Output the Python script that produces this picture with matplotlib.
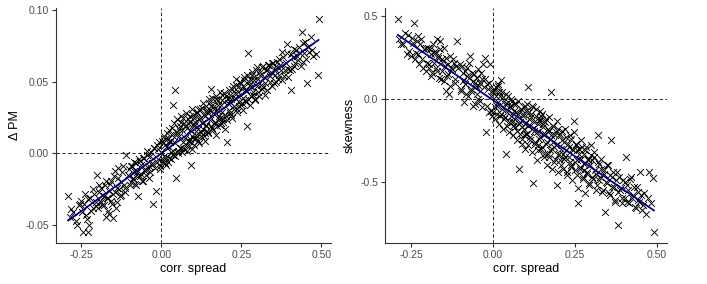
import numpy as np
import matplotlib
matplotlib.use("Agg")
import matplotlib.pyplot as plt

plt.rcParams['font.family'] = ['Liberation Sans', 'DejaVu Sans']

# corr. spread (shared x for both panels)
spread = [
    -0.290, -0.286, -0.275, -0.262, -0.258, -0.250, -0.245, -0.242, -0.236, -0.230,
    -0.226, -0.222, -0.215, -0.210, -0.205, -0.200,
    -0.196, -0.192, -0.188, -0.184, -0.180, -0.176, -0.172, -0.170, -0.166, -0.162,
    -0.158, -0.155, -0.150, -0.146, -0.142, -0.138, -0.134, -0.130, -0.125, -0.120,
    -0.115, -0.110, -0.105,
    -0.100, -0.096, -0.092, -0.088, -0.084, -0.080, -0.076, -0.073, -0.070, -0.066,
    -0.062, -0.058, -0.054, -0.050, -0.046, -0.042, -0.038, -0.034, -0.030, -0.025,
    -0.022, -0.017, -0.013, -0.009, -0.005, -0.002,
    0.002, 0.005, 0.008, 0.011, 0.014, 0.017, 0.020, 0.023, 0.026, 0.029,
    0.032, 0.035, 0.038, 0.041, 0.044, 0.046, 0.049, 0.052, 0.055, 0.058,
    0.061, 0.064, 0.067, 0.070, 0.073, 0.076, 0.079, 0.082, 0.085, 0.088,
    0.091, 0.094, 0.096, 0.099,
    0.102, 0.105, 0.107, 0.110, 0.113, 0.116, 0.119, 0.122, 0.125, 0.128,
    0.131, 0.134, 0.137, 0.140, 0.143, 0.146, 0.149, 0.152, 0.155, 0.158,
    0.161, 0.164, 0.167, 0.170, 0.173, 0.176, 0.179, 0.182, 0.185, 0.188,
    0.191, 0.194, 0.197, 0.199,
    0.202, 0.206, 0.209, 0.212, 0.216, 0.219, 0.222, 0.226, 0.229, 0.232,
    0.236, 0.239, 0.242, 0.246, 0.249, 0.252, 0.256, 0.259, 0.262, 0.266,
    0.268, 0.272, 0.276, 0.279, 0.282, 0.286, 0.289, 0.292, 0.296, 0.299,
    0.303, 0.307, 0.311, 0.315, 0.319, 0.321, 0.325, 0.329, 0.334, 0.338,
    0.343, 0.347, 0.352, 0.356, 0.359, 0.364, 0.369, 0.373, 0.378, 0.383,
    0.388, 0.393, 0.397,
    0.402, 0.405, 0.410, 0.415, 0.420, 0.426, 0.432, 0.438, 0.443, 0.450,
    0.456, 0.462, 0.468, 0.475, 0.482, 0.488, 0.491,
    # second batch
    -0.281, -0.268, -0.255, -0.248, -0.239, -0.233, -0.228, -0.219, -0.212, -0.203,
    -0.198, -0.194, -0.189, -0.185, -0.178, -0.174, -0.168, -0.164, -0.160, -0.156,
    -0.152, -0.148, -0.144, -0.140, -0.136, -0.131, -0.127, -0.122, -0.117, -0.112,
    -0.098, -0.094, -0.090, -0.086, -0.082, -0.078, -0.074, -0.068, -0.064, -0.060,
    -0.056, -0.052, -0.048, -0.044, -0.040, -0.036, -0.032, -0.028, -0.024, -0.019,
    -0.015, -0.011, -0.007, -0.003,
    0.001, 0.004, 0.007, 0.010, 0.013, 0.016, 0.019, 0.022, 0.025, 0.028,
    0.031, 0.034, 0.037, 0.040, 0.043, 0.047, 0.050, 0.053, 0.056, 0.059,
    0.062, 0.065, 0.068, 0.071, 0.074, 0.077, 0.080, 0.083, 0.086, 0.089,
    0.092, 0.095, 0.097, 0.098, 0.090, 0.060,
    0.101, 0.103, 0.106, 0.108, 0.111, 0.114, 0.117, 0.120, 0.123, 0.126,
    0.129, 0.132, 0.135, 0.138, 0.141, 0.144, 0.147, 0.150, 0.153, 0.156,
    0.159, 0.162, 0.165, 0.168, 0.171, 0.174, 0.177, 0.180, 0.183, 0.186,
    0.189, 0.192, 0.195, 0.198, 0.118, 0.136, 0.154, 0.172, 0.184, 0.145,
    0.201, 0.204, 0.207, 0.211, 0.214, 0.217, 0.221, 0.224, 0.227, 0.231,
    0.234, 0.237, 0.241, 0.244, 0.247, 0.251, 0.254, 0.257, 0.261, 0.264,
    0.267, 0.270, 0.274, 0.277, 0.281, 0.284, 0.287, 0.291, 0.294, 0.298,
    0.215, 0.238, 0.255, 0.278,
    0.301, 0.305, 0.309, 0.313, 0.317, 0.323, 0.327, 0.331, 0.336, 0.340,
    0.345, 0.349, 0.354, 0.358, 0.362, 0.367, 0.371, 0.376, 0.381, 0.386,
    0.391, 0.395,
    0.404, 0.408, 0.413, 0.418, 0.423, 0.429, 0.435, 0.441, 0.447, 0.453,
    0.459, 0.472,
]

# delta PM
dpm = [
    -0.030, -0.044, -0.041, -0.050, -0.036, -0.033, -0.055, -0.035, -0.043, -0.055,
    -0.050, -0.031, -0.038, -0.028, -0.034, -0.015,
    -0.027, -0.033, -0.024, -0.036, -0.030, -0.022, -0.044, -0.031, -0.040, -0.026,
    -0.019, -0.035, -0.028, -0.012, -0.038, -0.024, -0.017, -0.030, -0.020, -0.009,
    -0.024, -0.001, -0.015,
    -0.011, -0.020, -0.009, -0.017, -0.006, -0.022, -0.013, -0.030, -0.004, -0.016,
    -0.008, -0.019, -0.003, -0.012, 0.002, -0.010, -0.017, -0.002, -0.008, -0.035,
    0.004, -0.026, -0.006, 0.003, -0.011, 0.001,
    -0.006, 0.007, -0.002, 0.010, -0.008, 0.005, 0.011, -0.003, 0.009, 0.001,
    0.013, -0.001, 0.034, 0.008, 0.044, -0.017, 0.015, 0.002, 0.012, 0.019,
    0.004, 0.016, 0.008, 0.021, 0.011, 0.006, 0.018, 0.024, 0.009, 0.016,
    0.022, -0.008, 0.012, 0.027,
    0.010, 0.022, 0.013, 0.028, 0.017, 0.009, 0.024, 0.031, 0.015, 0.021,
    0.035, 0.012, 0.026, 0.019, 0.030, 0.014, 0.038, 0.023, 0.045, 0.018,
    0.028, 0.033, 0.021, 0.013, 0.030, 0.037, 0.024, 0.020, 0.034, 0.029,
    0.041, 0.022, 0.036, 0.027,
    0.026, 0.008, 0.038, 0.030, 0.041, 0.027, 0.045, 0.033, 0.039, 0.048,
    0.031, 0.043, 0.036, 0.050, 0.034, 0.045, 0.039, 0.053, 0.037, 0.044,
    0.019, 0.070, 0.048, 0.040, 0.055, 0.043, 0.051, 0.038, 0.058, 0.047,
    0.043, 0.055, 0.048, 0.060, 0.046, 0.053, 0.041, 0.058, 0.062, 0.050,
    0.057, 0.063, 0.049, 0.055, 0.061, 0.052, 0.066, 0.058, 0.071, 0.054,
    0.063, 0.076, 0.059,
    0.058, 0.044, 0.067, 0.061, 0.072, 0.065, 0.070, 0.085, 0.064, 0.078,
    0.049, 0.071, 0.081, 0.068, 0.069, 0.055, 0.094,
    # second batch
    -0.039, -0.047, -0.035, -0.041, -0.028, -0.046, -0.032, -0.040, -0.025, -0.037,
    -0.038, -0.022, -0.034, -0.029, -0.036, -0.019, -0.031, -0.042, -0.021, -0.033,
    -0.045, -0.016, -0.027, -0.034, -0.010, -0.025, -0.029, -0.013, -0.022, -0.027,
    -0.022, -0.009, -0.018, -0.012, -0.021, -0.007, -0.016, -0.005, -0.014, -0.019,
    -0.003, -0.011, -0.015, -0.001, -0.009, -0.013, 0.001, -0.007, 0.004, -0.010,
    0.006, -0.004, 0.008, -0.009,
    0.009, -0.004, 0.012, -0.007, 0.006, -0.003, 0.014, -0.006, 0.016, 0.008,
    -0.004, 0.018, 0.002, 0.021, -0.002, 0.013, 0.024, 0.000, 0.017, 0.004,
    0.022, 0.001, 0.025, 0.003, 0.019, 0.028, 0.002, 0.021, 0.005, 0.026,
    0.008, 0.031, 0.003, 0.020, 0.010, 0.026,
    0.025, 0.006, 0.020, 0.011, 0.029, 0.014, 0.007, 0.025, 0.012, 0.032,
    0.017, 0.027, 0.009, 0.033, 0.020, 0.029, 0.015, 0.035, 0.030, 0.019,
    0.039, 0.016, 0.031, 0.022, 0.040, 0.019, 0.034, 0.026, 0.043, 0.021,
    0.037, 0.024, 0.042, 0.017, 0.030, 0.014, 0.033, 0.038, 0.025, 0.028,
    0.040, 0.023, 0.035, 0.044, 0.028, 0.038, 0.025, 0.047, 0.031, 0.042,
    0.052, 0.029, 0.046, 0.033, 0.049, 0.035, 0.030, 0.051, 0.044, 0.036,
    0.055, 0.038, 0.050, 0.034, 0.046, 0.057, 0.041, 0.053, 0.037, 0.060,
    0.036, 0.040, 0.047, 0.052,
    0.052, 0.040, 0.057, 0.045, 0.061, 0.049, 0.058, 0.044, 0.062, 0.054,
    0.047, 0.063, 0.059, 0.050, 0.064, 0.055, 0.062, 0.051, 0.067, 0.058,
    0.070, 0.053,
    0.069, 0.059, 0.073, 0.063, 0.068, 0.074, 0.061, 0.077, 0.070, 0.066,
    0.074, 0.072,
]

# skewness
skew = [
    0.486, 0.36, 0.33, 0.27, 0.39, 0.26, 0.34, 0.457, 0.28, 0.38,
    0.21, 0.33, 0.24, 0.30, 0.17, 0.22,
    0.19, 0.30, 0.14, 0.33, 0.22, 0.28, 0.17, 0.36, 0.25, 0.35,
    0.12, 0.24, 0.31, 0.20, 0.05, 0.15, 0.03, 0.26, 0.18, 0.22,
    0.10, 0.35, 0.19,
    0.21, 0.05, 0.16, -0.02, 0.09, 0.19, 0.02, 0.13, 0.26, 0.06,
    -0.04, 0.15, 0.10, 0.03, 0.18, 0.08, -0.01, 0.12, 0.21, 0.25,
    -0.20, 0.09, -0.08, 0.21, 0.02, -0.10,
    0.06, -0.05, 0.02, -0.09, 0.08, -0.02, 0.04, -0.10, 0.117, -0.06,
    0.01, -0.12, -0.03, -0.33, -0.08, 0.02, -0.14, -0.04, -0.10, -0.01,
    -0.16, -0.07, -0.12, -0.03, -0.19, -0.09, -0.42, -0.14, -0.06, -0.17,
    -0.10, -0.22, -0.05, -0.15,
    -0.07, -0.21, 0.07, -0.12, -0.25, -0.09, -0.18, -0.506, -0.14, -0.27,
    -0.06, -0.20, -0.31, -0.13, -0.23, -0.10, -0.29, -0.17, -0.35, -0.21,
    -0.12, -0.26, -0.33, -0.19, -0.24, 0.04, -0.30, -0.16, -0.38, -0.22,
    -0.28, -0.52, -0.18, -0.34,
    -0.33, -0.21, -0.40, -0.25, -0.36, -0.18, -0.31, -0.44, -0.27, -0.35,
    -0.22, -0.41, -0.30, -0.13, -0.38, -0.28, -0.46, -0.63, -0.33, -0.42,
    -0.36, -0.29, -0.48, -0.39, -0.31, -0.45, -0.37, -0.52, -0.40, -0.34,
    -0.47, -0.35, -0.43, -0.55, -0.38, -0.215, -0.49, -0.42, -0.56, -0.45,
    -0.682, -0.51, -0.40, -0.58, -0.248, -0.47, -0.53, -0.61, -0.44, -0.758,
    -0.55, -0.60, -0.49,
    -0.60, -0.349, -0.52, -0.63, -0.47, -0.58, -0.65, -0.53, -0.61, -0.44,
    -0.67, -0.57, -0.692, -0.44, -0.63, -0.478, -0.805,
    # second batch
    0.33, 0.40, 0.29, 0.37, 0.24, 0.35, 0.27, 0.36, 0.19, 0.31,
    0.31, 0.21, 0.27, 0.16, 0.29, 0.19, 0.26, 0.13, 0.30, 0.17,
    0.23, 0.11, 0.25, 0.14, 0.21, 0.08, 0.19, 0.24, 0.12, 0.20,
    0.06, 0.20, 0.11, 0.17, 0.03, 0.14, 0.22, 0.05, 0.16, 0.11,
    -0.03, 0.08, 0.13, 0.00, 0.10, 0.16, -0.05, 0.07, 0.12, -0.04,
    0.06, 0.10, -0.07, 0.05,
    -0.08, 0.05, -0.12, 0.07, -0.04, 0.09, -0.15, 0.02, -0.09, 0.04,
    -0.18, -0.01, -0.11, 0.03, -0.16, -0.02, -0.20, -0.05, 0.00, -0.14,
    -0.22, -0.03, -0.17, -0.08, -0.25, -0.01, -0.15, -0.21, -0.06, -0.27,
    -0.09, -0.18, -0.30, -0.04, -0.24, -0.13,
    -0.21, -0.03, -0.16, -0.28, -0.08, -0.23, -0.11, -0.32, -0.05, -0.19,
    -0.26, -0.10, -0.37, -0.15, -0.24, -0.12, -0.30, -0.09, -0.21, -0.33,
    -0.14, -0.27, -0.40, -0.18, -0.11, -0.31, -0.22, -0.42, -0.16, -0.29,
    -0.36, -0.20, -0.13, -0.44, -0.04, -0.28, -0.15, -0.35, -0.26, -0.07,
    -0.22, -0.37, -0.30, -0.19, -0.42, -0.26, -0.35, -0.23, -0.46, -0.29,
    -0.38, -0.24, -0.49, -0.31, -0.20, -0.43, -0.27, -0.37, -0.54, -0.30,
    -0.41, -0.25, -0.47, -0.33, -0.57, -0.29, -0.44, -0.36, -0.51, -0.28,
    -0.33, -0.40, -0.31, -0.43,
    -0.37, -0.48, -0.32, -0.45, -0.52, -0.39, -0.47, -0.36, -0.55, -0.43,
    -0.50, -0.40, -0.57, -0.46, -0.53, -0.44, -0.62, -0.49, -0.56, -0.47,
    -0.54, -0.63,
    -0.50, -0.62, -0.55, -0.48, -0.60, -0.53, -0.66, -0.56, -0.62, -0.58,
    -0.64, -0.60,
]

x = np.array(spread)
panels = [(np.array(dpm), "\u0394 PM", [-0.05, 0.00, 0.05, 0.10], ["-0.05", "0.00", "0.05", "0.10"]),
          (np.array(skew), "skewness", [-0.5, 0.0, 0.5], ["-0.5", "0.0", "0.5"])]

fig = plt.figure(figsize=(7.07, 2.84), dpi=100)
boxes = [[0.0792, 0.1444, 0.389, 0.8276], [0.5446, 0.1444, 0.3984, 0.8276]]

for (y, ylab, yt, ytl), box in zip(panels, boxes):
    ax = fig.add_axes(box)
    ax.scatter(x, y, marker="x", s=24, c="black", linewidths=0.65)
    b, a = np.polyfit(x, y, 1)
    xs = np.array([x.min(), x.max()])
    ax.plot(xs, a + b * xs, color="#00008B", lw=1.3)
    ax.axhline(0, color="black", lw=0.6, ls=(0, (4, 3)))
    ax.axvline(0, color="black", lw=0.6, ls=(0, (4, 3)))
    xr = x.max() - x.min()
    ax.set_xlim(x.min() - 0.05 * xr, x.max() + 0.05 * xr)
    yr = y.max() - y.min()
    ax.set_ylim(y.min() - 0.05 * yr, y.max() + 0.05 * yr)
    ax.set_xticks([-0.25, 0.0, 0.25, 0.50])
    ax.set_xticklabels(["-0.25", "0.00", "0.25", "0.50"])
    ax.set_yticks(yt)
    ax.set_yticklabels(ytl)
    for s in ["top", "right"]:
        ax.spines[s].set_visible(False)
    for s in ["left", "bottom"]:
        ax.spines[s].set_color("#333333")
        ax.spines[s].set_linewidth(0.8)
    ax.tick_params(length=3, width=0.8, color="#333333", labelsize=7.5, labelcolor="#4D4D4D", pad=2)
    ax.set_xlabel("corr. spread", fontsize=9, labelpad=2)
    ax.set_ylabel(ylab, fontsize=9, labelpad=3)

fig.savefig("out.png", dpi=100)
